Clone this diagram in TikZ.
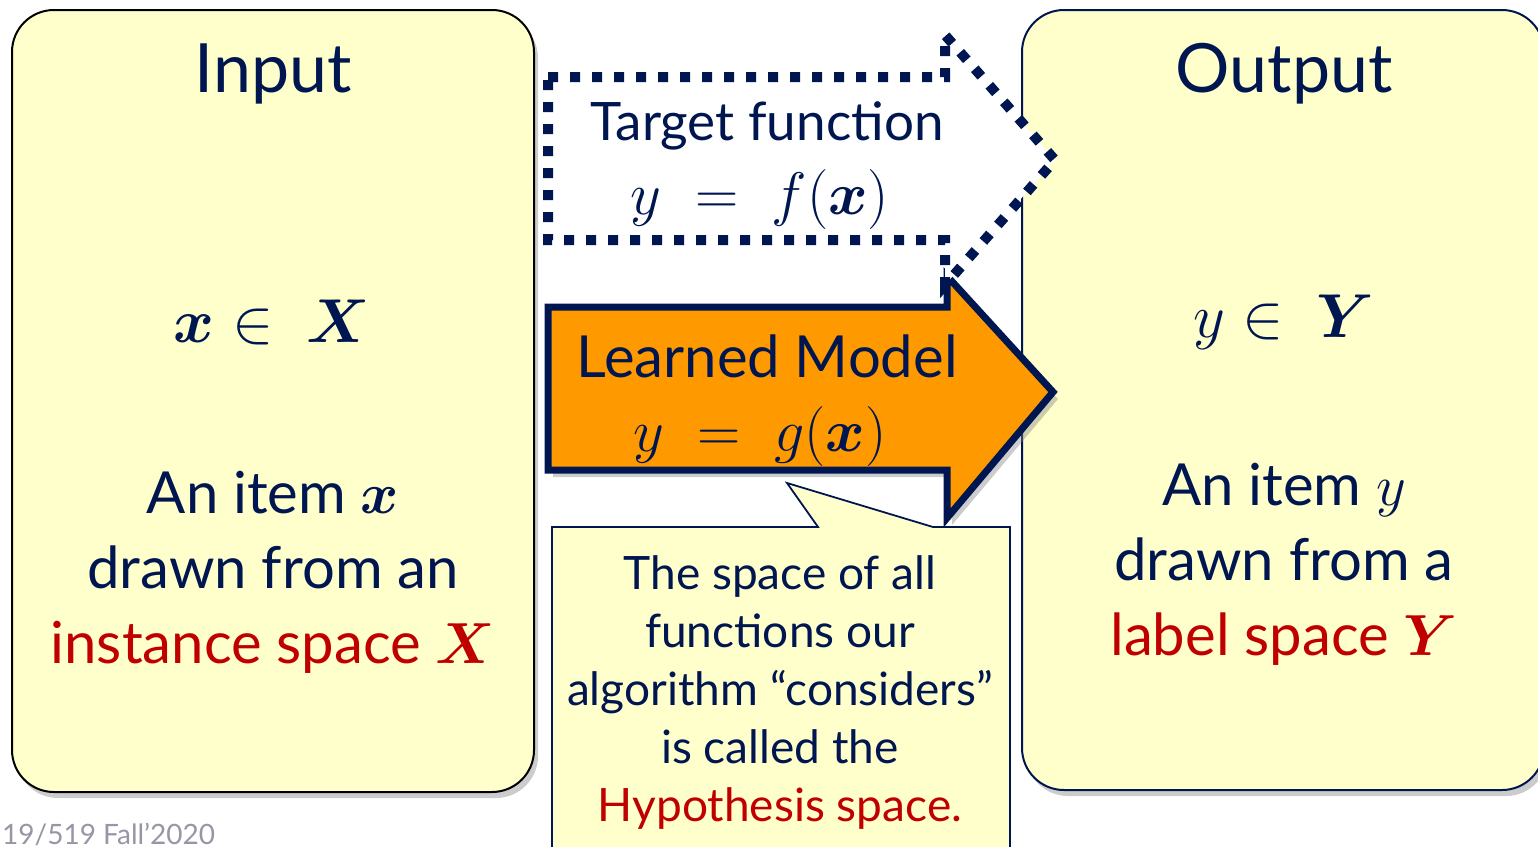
\RequirePackage{fix-cm}
\documentclass[tikz,border=0pt]{standalone}
\usepackage{fontspec}
\setmainfont{Lato}
\usepackage{amsmath,bm}
\usetikzlibrary{shadows}
\definecolor{navy}{RGB}{0,22,80}
\definecolor{pale}{RGB}{255,255,204}
\definecolor{orng}{RGB}{255,153,0}
\definecolor{dred}{RGB}{192,0,0}
\definecolor{foot}{RGB}{150,150,165}
\begin{document}
\begin{tikzpicture}[x=1pt,y=-1pt,
  panel/.style={fill=pale, line width=2pt, rounded corners=42pt,
    drop shadow={opacity=0.4, shadow xshift=4pt, shadow yshift=-6pt}},
  txt/.style={text=navy, inner sep=0pt},
  dotarrow/.style={draw=navy, fill=white, line width=10pt, dash pattern=on 10pt off 12pt, line join=miter},
  solidarrow/.style={draw=navy, fill=orng, line width=7pt, line join=miter,
    drop shadow={opacity=0.4, shadow xshift=5pt, shadow yshift=-7pt}},
  callout/.style={draw=navy, fill=pale, line width=1.8pt, line join=miter},
  bigtitle/.style={txt, font=\fontsize{68}{80}\selectfont},
  mathtxt/.style={txt, font=\fontsize{62}{70}\selectfont},
  desc/.style={txt, align=center, font=\fontsize{58}{75}\selectfont},
]
\useasboundingbox (0,0) rectangle (1538,846);

% footer
\node[anchor=base west, text=foot, inner sep=0pt, font=\fontsize{28}{34}\selectfont] (footer) at (2,844) {19/519 Fall’2020};

% panels
\path[panel, draw=black] (12,10) rectangle (534,792);
\path[panel, draw=navy] (1022,10) rectangle (1544,790);

% callout
\path[callout] (552,880) -- (552,527) -- (818,527) -- (787,483) -- (933,527) -- (1010,527) -- (1010,880) -- cycle;

% learned model arrow
\path[solidarrow] (548,307) -- (947,307) -- (947,276) -- (1053,392) -- (947,518) -- (947,470) -- (548,470) -- cycle;

% target function arrow
\path[dotarrow] (548,77) -- (945,77) -- (945,35) -- (1055,160) -- (945,285) -- (945,240) -- (548,240) -- cycle;

% left panel texts
\node[bigtitle] (intitle) at (273,74) {Input};
\node[mathtxt] (inmath) at (272,322) {$\bm{x} \in\ \bm{X}$};
\node[desc] (indesc) at (273,572) {An item $\bm{x}$\\drawn from an\\\textcolor{dred}{instance space $\bm{X}$}};

% right panel texts
\node[bigtitle] (outtitle) at (1284,74) {Output};
\node[mathtxt] (outmath) at (1284,322) {$y \in\ \bm{Y}$};
\node[desc] (outdesc) at (1284,564) {An item $y$\\drawn from a\\\textcolor{dred}{label space $\bm{Y}$}};

% arrows texts
\node[txt, font=\fontsize{53}{66}\selectfont] (tflabel) at (767,126) {Target function};
\node[txt, font=\fontsize{60}{66}\selectfont] (tfmath) at (760,199) {$y \;=\; f(\bm{x})$};
\node[txt, font=\fontsize{58}{66}\selectfont] (lmlabel) at (767,356) {Learned Model};
\node[txt, font=\fontsize{60}{66}\selectfont] (lmmath) at (760,436) {$y \;=\; g(\bm{x})$};

% callout text
\node[txt, align=center, font=\fontsize{46}{58}\selectfont] (hyp) at (780,692) {The space of all\\functions our\\algorithm “considers”\\is called the\\\textcolor{dred}{Hypothesis space.}};
\end{tikzpicture}
\end{document}
